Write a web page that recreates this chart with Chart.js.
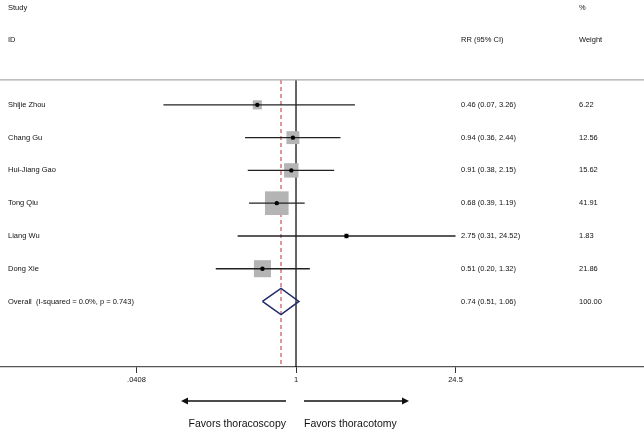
<!DOCTYPE html>
<html>
<head>
<meta charset="utf-8">
<script src="https://cdn.jsdelivr.net/npm/chart.js@4.4.1/dist/chart.umd.min.js"></script>
<style>
  html, body { margin: 0; padding: 0; background: #fff; }
  #wrap { width: 644px; height: 430px; }
</style>
</head>
<body>
<div id="wrap"><canvas id="forest" width="644" height="430"></canvas></div>
<script>
const studies = ["Shijie Zhou", "Chang Gu", "Hui-Jiang Gao", "Tong Qiu", "Liang Wu", "Dong Xie"];
const rr = [0.46, 0.94, 0.91, 0.68, 2.75, 0.51];
const lower = [0.07, 0.36, 0.38, 0.39, 0.31, 0.20];
const upper = [3.26, 2.44, 2.15, 1.19, 24.52, 1.32];
const weights = [6.22, 12.56, 15.62, 41.91, 1.83, 21.86];
const overallLabel = "Overall  (I-squared = 0.0%, p = 0.743)";
const overallRR = 0.74;
const overallLower = 0.51;
const overallUpper = 1.06;
const overallWeight = 100.00;
const xTickValues = [0.0408, 1, 24.5];
const xTickLabels = [".0408", "1", "24.5"];

const FONT = '"Liberation Sans", Arial, sans-serif';
const overallRow = studies.length + 1;
const rowOf = i => i + 1;

function ciText(e, l, u) {
  return e.toFixed(2) + " (" + l.toFixed(2) + ", " + u.toFixed(2) + ")";
}

// one line per study for the confidence intervals
const ciSets = studies.map((s, i) => ({
  data: [{ x: lower[i], y: rowOf(i) }, { x: upper[i], y: rowOf(i) }],
  showLine: true,
  borderColor: "#222",
  borderWidth: 1.4,
  pointRadius: 0,
  order: 3
}));

const datasets = [
  // weight boxes
  {
    data: rr.map((v, i) => ({ x: v, y: rowOf(i) })),
    pointStyle: "rect",
    pointRadius: ctx => 3.65 * Math.sqrt(weights[ctx.dataIndex]) / Math.SQRT2,
    backgroundColor: "#b4b4b4",
    borderWidth: 0,
    order: 4
  },
  // point estimates
  {
    data: rr.map((v, i) => ({ x: v, y: rowOf(i) })),
    pointRadius: 2.2,
    backgroundColor: "#000",
    borderWidth: 0,
    order: 2
  },
  // overall diamond
  {
    data: [
      { x: overallLower, y: overallRow },
      { x: overallRR, y: overallRow - 0.4 },
      { x: overallUpper, y: overallRow },
      { x: overallRR, y: overallRow + 0.4 },
      { x: overallLower, y: overallRow }
    ],
    showLine: true,
    tension: 0,
    borderColor: "#1f2b6b",
    borderWidth: 1.5,
    pointRadius: 0,
    order: 1
  },
  // null line
  {
    data: [{ x: 1, y: 0.24 }, { x: 1, y: 9 }],
    showLine: true,
    borderColor: "#000",
    borderWidth: 1.2,
    pointRadius: 0,
    order: 6
  },
  // overall estimate line
  {
    data: [{ x: overallRR, y: 0.24 }, { x: overallRR, y: 9 }],
    showLine: true,
    borderColor: "#c8404e",
    borderWidth: 1.1,
    borderDash: [4, 3],
    pointRadius: 0,
    order: 5
  }
].concat(ciSets);

const tablePlugin = {
  id: "table",
  afterDraw(chart) {
    const ctx = chart.ctx;
    const ys = chart.scales.y;
    const xs = chart.scales.x;
    const area = chart.chartArea;
    ctx.save();

    // separator under the header
    ctx.strokeStyle = "#aaa";
    ctx.lineWidth = 1.2;
    ctx.beginPath();
    ctx.moveTo(0, ys.getPixelForValue(0.24));
    ctx.lineTo(chart.width, ys.getPixelForValue(0.24));
    ctx.stroke();

    ctx.fillStyle = "#111";
    ctx.textBaseline = "middle";
    ctx.font = "7.5px " + FONT;
    const colName = 8, colCI = 461, colW = 579;

    ctx.fillText("Study", colName, ys.getPixelForValue(-1.96));
    ctx.fillText("%", colW, ys.getPixelForValue(-1.96));
    ctx.fillText("ID", colName, ys.getPixelForValue(-0.98));
    ctx.fillText("RR (95% CI)", colCI, ys.getPixelForValue(-0.98));
    ctx.fillText("Weight", colW, ys.getPixelForValue(-0.98));

    studies.forEach((s, i) => {
      const y = ys.getPixelForValue(rowOf(i));
      ctx.fillText(s, colName, y);
      ctx.fillText(ciText(rr[i], lower[i], upper[i]), colCI, y);
      ctx.fillText(weights[i].toFixed(2), colW, y);
    });
    const yo = ys.getPixelForValue(overallRow);
    ctx.fillText(overallLabel, colName, yo);
    ctx.fillText(ciText(overallRR, overallLower, overallUpper), colCI, yo);
    ctx.fillText(overallWeight.toFixed(2), colW, yo);

    // direction arrows
    const x1 = xs.getPixelForValue(1);
    const ay = area.bottom + 34;
    ctx.strokeStyle = "#111";
    ctx.lineWidth = 1.4;
    ctx.beginPath();
    ctx.moveTo(x1 - 10, ay);
    ctx.lineTo(x1 - 110, ay);
    ctx.moveTo(x1 + 8, ay);
    ctx.lineTo(x1 + 108, ay);
    ctx.stroke();
    ctx.beginPath();
    ctx.moveTo(x1 - 115, ay);
    ctx.lineTo(x1 - 108, ay - 3.5);
    ctx.lineTo(x1 - 108, ay + 3.5);
    ctx.closePath();
    ctx.moveTo(x1 + 113, ay);
    ctx.lineTo(x1 + 106, ay - 3.5);
    ctx.lineTo(x1 + 106, ay + 3.5);
    ctx.closePath();
    ctx.fillStyle = "#111";
    ctx.fill();

    ctx.font = "10.5px " + FONT;
    ctx.textAlign = "right";
    ctx.fillText("Favors thoracoscopy", x1 - 10, area.bottom + 57);
    ctx.textAlign = "left";
    ctx.fillText("Favors thoracotomy", x1 + 8, area.bottom + 57);
    ctx.restore();
  }
};

new Chart(document.getElementById("forest"), {
  type: "scatter",
  data: { datasets: datasets },
  options: {
    responsive: false,
    devicePixelRatio: 1,
    animation: false,
    layout: { padding: 0, autoPadding: false },
    plugins: { legend: { display: false }, tooltip: { enabled: false } },
    scales: {
      x: {
        type: "logarithmic",
        min: 0.002641,
        max: 1074,
        afterFit: s => { s.height = 63; },
        afterBuildTicks: s => { s.ticks = xTickValues.map(v => ({ value: v })); },
        grid: { drawOnChartArea: false, drawTicks: true, tickLength: 6, color: "#333", lineWidth: 1 },
        border: { display: true, color: "#555", width: 1.2 },
        ticks: {
          autoSkip: false,
          maxRotation: 0,
          padding: 2,
          color: "#111",
          font: { family: FONT, size: 7.5 },
          callback: (v, i) => xTickLabels[i]
        }
      },
      y: {
        type: "linear",
        display: false,
        reverse: true,
        min: -2.2,
        max: 9
      }
    }
  },
  plugins: [tablePlugin]
});
</script>
</body>
</html>
